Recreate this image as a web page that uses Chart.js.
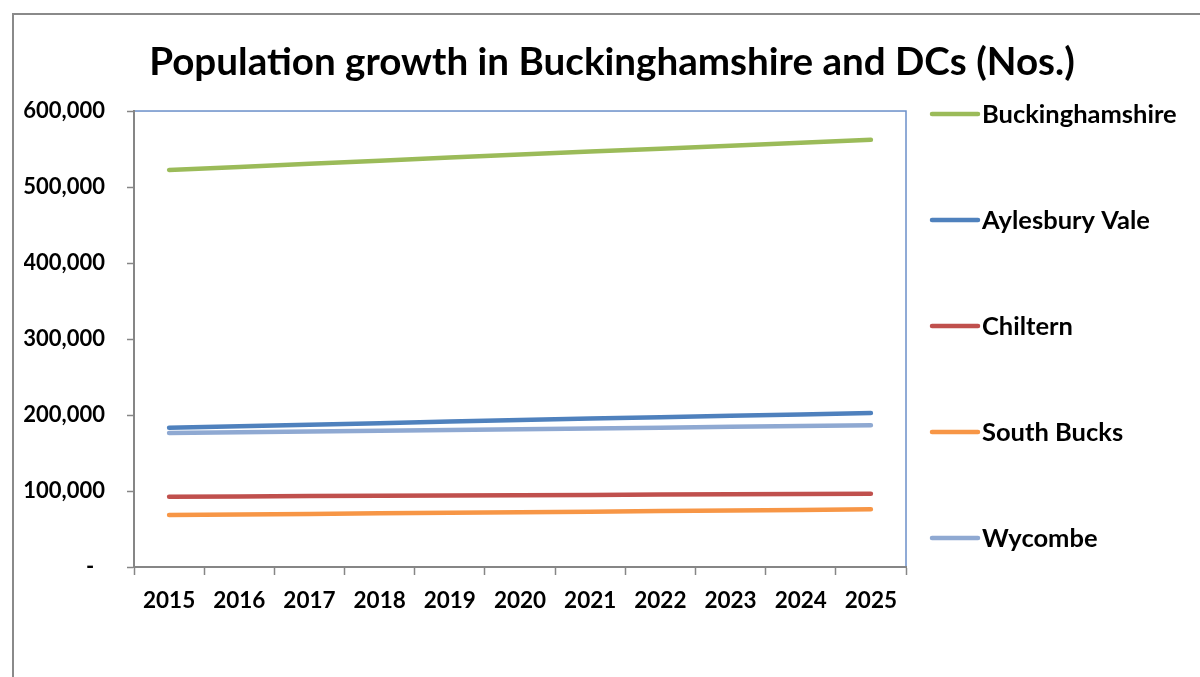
<!DOCTYPE html>
<html>
<head>
<meta charset="utf-8">
<script src="https://cdn.jsdelivr.net/npm/chart.js@4"></script>
<style>
    body { margin: 0; background: #fff; }
    .frame {
        position: absolute;
        left: 12px;
        top: 13px;
        width: 1300px;
        height: 800px;
        border: 2px solid #8a8a8a;
    }
    canvas { position: absolute; left: 0; top: 0; }
</style>
</head>
<body>
<div class="frame"></div>
<canvas id="popChart" width="1200" height="677"></canvas>
<script>
const years = ['2015', '2016', '2017', '2018', '2019', '2020', '2021', '2022', '2023', '2024', '2025'];

const buckinghamshire = [522400, 526500, 530500, 534600, 538700, 542700, 546600, 550500, 554400, 558300, 562200];
const aylesburyVale = [183300, 185300, 187300, 189300, 191400, 193400, 195300, 197200, 199000, 200800, 202600];
const chiltern = [92500, 92900, 93300, 93700, 94100, 94500, 94900, 95300, 95700, 96100, 96500];
const southBucks = [68400, 69100, 69800, 70600, 71300, 72100, 72800, 73600, 74300, 75100, 75900];
const wycombe = [176300, 177300, 178300, 179300, 180300, 181300, 182300, 183300, 184400, 185400, 186400];

const FONT = 'Lato, "DejaVu Sans", sans-serif';

function line(label, data, color) {
    return {
        label,
        data,
        borderColor: color,
        backgroundColor: color,
        borderWidth: 4.5,
        borderCapStyle: 'round',
        pointRadius: 0,
        tension: 0,
        fill: false
    };
}

// blue frame on top/right of the plot area, axes draw grey over left/bottom
const plotFrame = {
    id: 'plotFrame',
    beforeDraw(chart) {
        const { ctx, chartArea: a } = chart;
        ctx.save();
        ctx.strokeStyle = '#6b8fc9';
        ctx.lineWidth = 1.5;
        ctx.strokeRect(a.left, a.top, a.right - a.left, a.bottom - a.top);
        ctx.restore();
    }
};

// legend spread down the right side like the original
const sideLegend = {
    id: 'sideLegend',
    afterDraw(chart) {
        const { ctx, chartArea: a } = chart;
        ctx.save();
        ctx.font = 'bold 25.5px ' + FONT;
        ctx.textBaseline = 'middle';
        ctx.textAlign = 'left';
        chart.data.datasets.forEach((ds, i) => {
            const y = a.top + 3 + i * 106;
            const x = a.right + 26;
            ctx.strokeStyle = ds.borderColor;
            ctx.lineWidth = 4.5;
            ctx.lineCap = 'round';
            ctx.beginPath();
            ctx.moveTo(x, y);
            ctx.lineTo(x + 46, y);
            ctx.stroke();
            ctx.fillStyle = '#000';
            ctx.fillText(ds.label, x + 50, y + 1);
        });
        ctx.restore();
    }
};

new Chart(document.getElementById('popChart'), {
    type: 'line',
    data: {
        labels: years,
        datasets: [
            line('Buckinghamshire', buckinghamshire, '#9bbb59'),
            line('Aylesbury Vale', aylesburyVale, '#4f81bd'),
            line('Chiltern', chiltern, '#c0504d'),
            line('South Bucks', southBucks, '#f79646'),
            line('Wycombe', wycombe, '#8fa9d2')
        ]
    },
    options: {
        responsive: false,
        animation: false,
        layout: { padding: { left: 24, right: 0, top: 0, bottom: 0 } },
        plugins: {
            legend: { display: false },
            tooltip: { enabled: false },
            title: {
                display: true,
                text: 'Population growth in Buckinghamshire and DCs (Nos.)',
                color: '#000',
                font: { family: FONT, size: 38.6, weight: 'bold', lineHeight: 1.2 },
                padding: { top: 39, bottom: 25.7 }
            }
        },
        scales: {
            x: {
                offset: true,
                grid: { drawOnChartArea: false, offset: true, tickLength: 8, color: '#868686', tickWidth: 1.5 },
                border: { color: '#868686', width: 2 },
                ticks: { color: '#000', padding: 12, font: { family: FONT, size: 22.5, weight: 'bold' } },
                afterFit: s => { s.height = 110; }
            },
            y: {
                min: 0,
                max: 600000,
                grid: { drawOnChartArea: false, tickLength: 7, color: '#868686', tickWidth: 1.5 },
                border: { color: '#868686', width: 2 },
                ticks: {
                    stepSize: 100000,
                    color: '#000',
                    padding: 22,
                    font: { family: FONT, size: 22, weight: 'bold' },
                    callback: v => v === 0 ? '-  ' : v.toLocaleString('en-GB')
                },
                afterFit: s => { s.width = 110; }
            },
            side: {
                position: 'right',
                display: true,
                grid: { display: false },
                border: { display: false },
                ticks: { display: false },
                afterFit: s => { s.width = 294; }
            }
        }
    },
    plugins: [plotFrame, sideLegend]
});
</script>
</body>
</html>
